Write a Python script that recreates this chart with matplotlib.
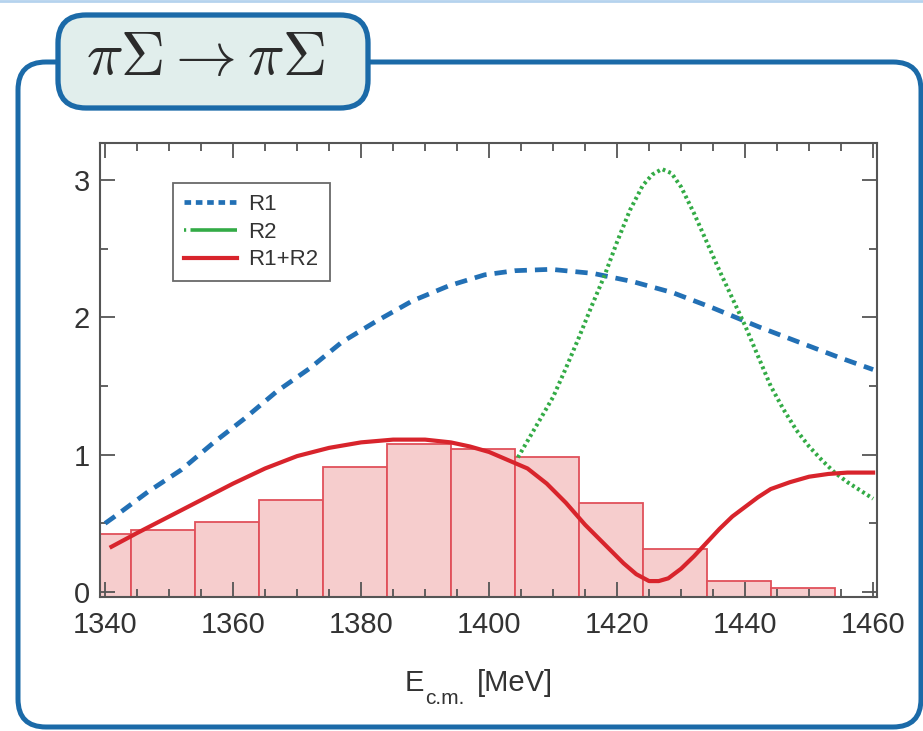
import matplotlib
matplotlib.use('Agg')
import matplotlib.pyplot as plt
from matplotlib.patches import FancyBboxPatch
from matplotlib.lines import Line2D
from matplotlib.ticker import MultipleLocator

plt.rcParams['font.family'] = ['Liberation Sans', 'DejaVu Sans']

# --- Dados ---
bin_centers = [1339, 1349, 1359, 1369, 1379, 1389,
               1399, 1409, 1419, 1429, 1439, 1449]
bin_heights = [0.42, 0.45, 0.51, 0.67, 0.91, 1.08,
               1.04, 0.98, 0.65, 0.31, 0.08, 0.03]

energy_r1 = [1340, 1341.5, 1346.7, 1351.9, 1357, 1361.7, 1366.8, 1372, 1377,
             1382.3, 1388, 1393.7, 1399.3, 1404, 1409.7, 1416.3, 1422.5,
             1428.7, 1434.9, 1442.2, 1448.4, 1454.6, 1460]
r1 = [0.50, 0.55, 0.73, 0.89, 1.09, 1.26, 1.46, 1.63, 1.82,
      1.97, 2.12, 2.23, 2.31, 2.34, 2.35, 2.32, 2.26,
      2.18, 2.07, 1.93, 1.82, 1.71, 1.62]

energy_r2 = [1404.5, 1407, 1410, 1412, 1414, 1416, 1418, 1420, 1422, 1424,
             1425.5, 1427, 1428.5, 1430, 1432, 1434, 1436, 1438, 1440, 1442,
             1444, 1446, 1448, 1450, 1452, 1454, 1456, 1458, 1460]
r2 = [0.98, 1.18, 1.42, 1.63, 1.85, 2.08, 2.30, 2.55, 2.78, 2.96,
      3.04, 3.08, 3.05, 2.95, 2.76, 2.55, 2.34, 2.14, 1.94, 1.72,
      1.50, 1.33, 1.18, 1.06, 0.96, 0.87, 0.80, 0.74, 0.68]

energy_sum = [1341, 1345, 1350, 1355, 1360, 1365, 1370, 1375, 1380, 1385,
              1390, 1394, 1397, 1400, 1403, 1406, 1409, 1412, 1415, 1418,
              1421, 1423, 1425, 1426.5, 1428, 1430, 1432, 1434, 1436, 1438,
              1440, 1442, 1444, 1447, 1450, 1453, 1456, 1460]
r1_r2 = [0.33, 0.43, 0.55, 0.67, 0.79, 0.90, 0.99, 1.05, 1.09, 1.11,
         1.11, 1.09, 1.06, 1.02, 0.96, 0.90, 0.79, 0.65, 0.49, 0.35,
         0.21, 0.13, 0.08, 0.08, 0.10, 0.17, 0.26, 0.36, 0.46, 0.55,
         0.62, 0.69, 0.75, 0.80, 0.84, 0.86, 0.87, 0.87]

x_ticks = [1340, 1360, 1380, 1400, 1420, 1440, 1460]
y_ticks = [0, 1, 2, 3]

AZUL = '#1b6aa8'
Y_BASE = -0.036

fig = plt.figure(figsize=(9.23, 7.31), dpi=100)

# Moldura do slide (coordenadas em pixels)
fundo = fig.add_axes([0, 0, 1, 1], zorder=0)
fundo.set_xlim(0, 923)
fundo.set_ylim(731, 0)
fundo.axis('off')
fundo.add_patch(FancyBboxPatch((18, 62), 903, 665,
                               boxstyle='round,pad=0,rounding_size=28',
                               fc='white', ec=AZUL, lw=3.6))
fundo.add_patch(FancyBboxPatch((58, 15), 310, 93,
                               boxstyle='round,pad=0,rounding_size=28',
                               fc='#e1eeec', ec=AZUL, lw=3.8, zorder=3))
fundo.text(205, 60, r'$\pi\Sigma \rightarrow \pi\Sigma$', math_fontfamily='cm',
           fontsize=44, color='#2b2b2b', ha='center', va='center', zorder=4)
fundo.plot([0, 923], [1, 1], color='#b5d3ee', lw=2)

# Rótulo do eixo x (E com subscrito c.m.)
fundo.text(424, 683, 'E', ha='right', va='center', fontsize=21, color='#333333')
fundo.text(425, 698, 'c.m.', ha='left', va='center', fontsize=15, color='#333333')
fundo.text(477, 683, '[MeV]', ha='left', va='center', fontsize=21, color='#333333')

# Gráfico principal
ax = fig.add_axes([0.1083, 0.1833, 0.8418, 0.6211], zorder=2)
ax.bar(bin_centers, [h - Y_BASE for h in bin_heights], bottom=Y_BASE, width=10,
       color='#f6cdcd', edgecolor='#e0505a', linewidth=1.3, zorder=1)
ax.plot(energy_r1, r1, color='#2270b5', lw=3.4, dashes=(2.6, 1.7), zorder=3)
ax.plot(energy_r2, r2, color='#33ab46', lw=2.9, linestyle=(0, (0.7, 0.8)), zorder=3)
ax.plot(energy_sum, r1_r2, color='#d8242c', lw=3.0, zorder=4)

ax.set_xlim(1339.2, 1460.6)
ax.set_ylim(Y_BASE, 3.27)
ax.set_xticks(x_ticks)
ax.set_yticks(y_ticks)
ax.xaxis.set_minor_locator(MultipleLocator(5))
ax.yaxis.set_minor_locator(MultipleLocator(0.5))
ax.tick_params(which='both', direction='in', top=True, right=True,
               color='#555555', width=1.3, labelcolor='#333333', labelsize=21)
ax.tick_params(which='major', length=11)
ax.tick_params(which='minor', length=6)
ax.tick_params(axis='x', pad=10)
ax.tick_params(axis='y', pad=7)
for s in ax.spines.values():
    s.set_color('#555555')
    s.set_linewidth(1.5)

handles = [
    Line2D([], [], color='#2270b5', lw=3.4, dashes=(1.4, 1.0)),
    Line2D([], [], color='#33ab46', lw=2.6, linestyle=(0, (0.6, 1.2, 14, 1))),
    Line2D([], [], color='#d8242c', lw=3.0),
]
leg = ax.legend(handles, ['R1', 'R2', 'R1+R2'], loc='upper left',
                bbox_to_anchor=(0.094, 0.912), borderaxespad=0,
                fancybox=False, fontsize=16, handlelength=2.4,
                labelspacing=0.3, handletextpad=0.5, borderpad=0.5)
leg.get_frame().set_edgecolor('#444444')
leg.get_frame().set_linewidth(1.3)
for t in leg.get_texts():
    t.set_color('#333333')

fig.savefig('out.png', dpi=100)
